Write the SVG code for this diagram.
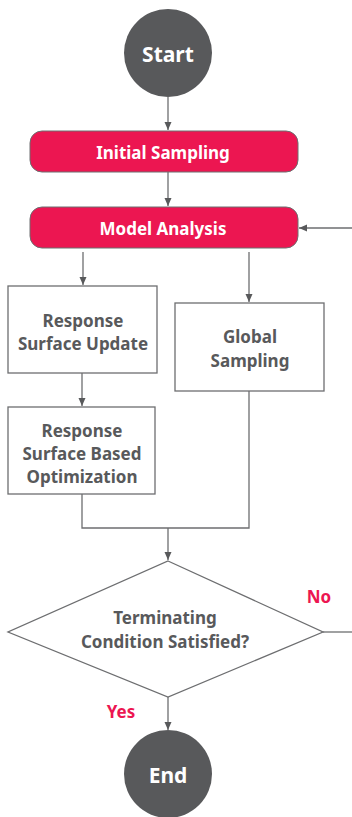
<svg xmlns="http://www.w3.org/2000/svg" width="352" height="817" viewBox="0 0 352 817">
<style>
.c{fill:#58595b}
.r{fill:#ec1651;stroke:#6d6e70;stroke-width:1}
.b{fill:#fff;stroke:#6d6e70;stroke-width:1.3}
.t{font-family:"Noto Sans","Open Sans",sans-serif;font-weight:bold;text-anchor:middle;font-size:17px}
.w{fill:#fff}
.g{fill:#58595b}
.red{fill:#ec1651}
.l{fill:none;stroke:#6d6e70;stroke-width:1.3}
</style>
<defs>
<marker id="a" markerWidth="10" markerHeight="8" refX="9" refY="4" orient="auto" markerUnits="userSpaceOnUse">
<path d="M1,0.5 L9,4 L1,7.5 Z" fill="#58595b"/>
</marker>
</defs>
<g id="connectors">
<path class="l" d="M168,97 V130" marker-end="url(#a)"/>
<path class="l" d="M168,172 V206" marker-end="url(#a)"/>
<path class="l" d="M83,252 V285" marker-end="url(#a)"/>
<path class="l" d="M249,252 V302" marker-end="url(#a)"/>
<path class="l" d="M82,373 V406" marker-end="url(#a)"/>
<path class="l" d="M82,494 V528 H249 V391"/>
<path class="l" d="M168,528 V560" marker-end="url(#a)"/>
<path class="l" d="M168,697 V730" marker-end="url(#a)"/>
<path class="l" d="M323,632 H352"/>
<path class="l" d="M352,228 H299" marker-end="url(#a)"/>
</g>
<g id="start">
<circle class="c" cx="168" cy="53" r="44"/>
<text class="t w" x="168" y="62" style="font-size:21px">Start</text>
</g>
<g id="initial">
<rect class="r" x="30" y="131" width="268" height="41" rx="12"/>
<text class="t w" x="163" y="159">Initial Sampling</text>
</g>
<g id="model">
<rect class="r" x="30" y="207" width="268" height="41" rx="12"/>
<text class="t w" x="163" y="235">Model Analysis</text>
</g>
<g id="rsu">
<rect class="b" x="8" y="286" width="149" height="87"/>
<text class="t g" x="83" y="327">Response</text>
<text class="t g" x="83" y="350">Surface Update</text>
</g>
<g id="global">
<rect class="b" x="175" y="303" width="149" height="88"/>
<text class="t g" x="250" y="343">Global</text>
<text class="t g" x="250" y="367">Sampling</text>
</g>
<g id="rsbo">
<rect class="b" x="8" y="407" width="147" height="87"/>
<text class="t g" x="82" y="437">Response</text>
<text class="t g" x="82" y="460">Surface Based</text>
<text class="t g" x="82" y="483">Optimization</text>
</g>
<g id="decision">
<path class="b" d="M168,561 L323,632 L168,697 L8,632 Z"/>
<text class="t g" x="165" y="624">Terminating</text>
<text class="t g" x="165" y="648">Condition Satisfied?</text>
</g>
<text class="t red" x="319" y="603">No</text>
<text class="t red" x="121" y="718">Yes</text>
<g id="end">
<circle class="c" cx="168" cy="774" r="44"/>
<text class="t w" x="168" y="783" style="font-size:21px">End</text>
</g>
</svg>
